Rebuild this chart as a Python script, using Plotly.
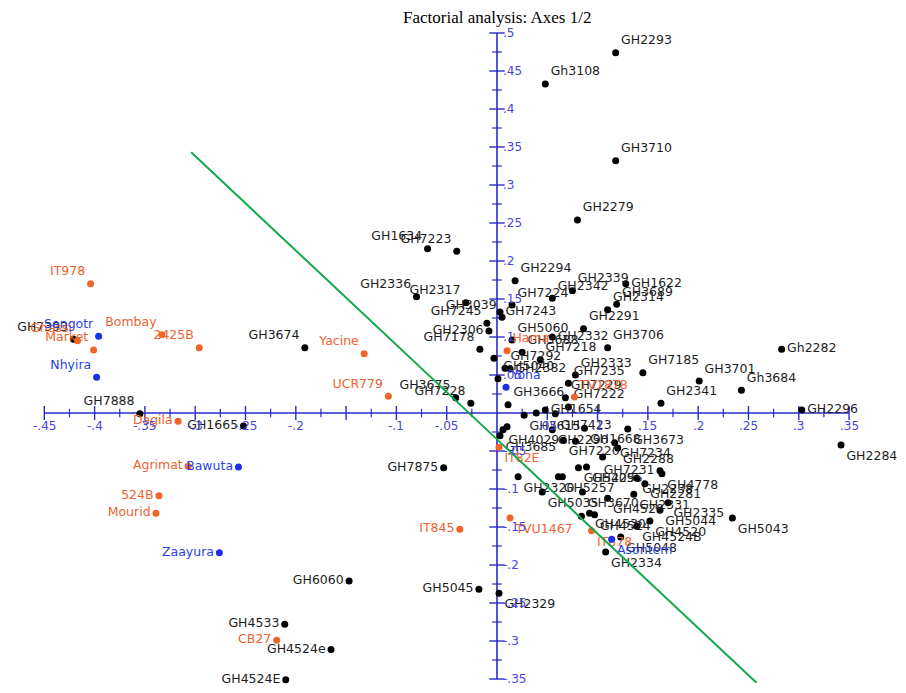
import numpy as np
import plotly.graph_objects as go

# ---------------- data ----------------
names = [
    # black accessions
    "GH2293", "Gh3108", "GH3710", "GH2279", "GH1634", "GH7223", "GH2336", "GH2317",
    "GH3039", "GH7245", "GH2306", "GH7178", "", "GH3674", "GH7393", "GH7888",
    "GH1665", "GH3675", "GH7228", "GH7875", "GH6060", "GH5045", "GH2329", "GH4533",
    "GH4524e", "GH4524E", "GH2294", "GH2339", "GH2342", "GH1622", "GH7224", "GH7243",
    "GH3689", "GH2314", "GH2291", "GH2332", "GH5060", "GH3688", "GH7218", "GH3706",
    "GH7292", "GH2382", "GH5040", "GH2333", "GH7185", "GH7235", "GH7229", "GH3666",
    "GH7222", "GH3701", "Gh2282", "Gh3684", "GH2341", "GH2296", "GH2284", "GH5043",
    "GH2335", "GH4778", "GH7231", "GH2238", "GH2281", "GH2331", "GH4528", "GH5044",
    "GH4520", "GH4524B", "GH3673", "GH1668", "GH7234", "GH2288", "GH2290", "GH3615",
    "GH7423", "GH1654", "GH4029", "GH3685", "GH7220", "", "", "GH5405",
    "GH2295", "GH5257", "", "GH2320", "GH5035", "GH3670", "GH4530", "GH4524",
    "", "GH5048", "GH2334", "", "",
    # orange varieties
    "IT978", "Bombay", "2425B", "Ghassi", "Market", "Dagila", "Agrimat", "524B",
    "Mourid", "CB27", "Yacine", "UCR779", "IT845", "IT82E", "TVU1467", "Hama",
    "TV1878", "IT878",
    # blue varieties
    "Sengotr", "Nhyira", "Bawuta", "Zaayura", "Yona", "Asontem",
]
axis1 = [
    0.118, 0.048, 0.118, 0.080, -0.069, -0.040, -0.080, -0.031,
    0.005, -0.010, -0.008, -0.017, -0.003, -0.191, -0.421, -0.355,
    -0.252, -0.041, -0.026, -0.053, -0.147, -0.018, 0.002, -0.211,
    -0.165, -0.210, 0.018, 0.075, 0.055, 0.128, 0.015, 0.003,
    0.119, 0.110, 0.086, 0.055, 0.015, 0.025, 0.043, 0.110,
    0.008, 0.013, 0.001, 0.078, 0.145, 0.071, 0.068, 0.011,
    0.071, 0.201, 0.283, 0.243, 0.163, 0.303, 0.342, 0.234,
    0.170, 0.164, 0.162, 0.139, 0.147, 0.136, 0.110, 0.162,
    0.152, 0.139, 0.130, 0.087, 0.117, 0.120, 0.055, 0.027,
    0.058, 0.048, 0.006, 0.003, 0.066, 0.078, 0.010, 0.081,
    0.089, 0.061, 0.065, 0.021, 0.045, 0.085, 0.092, 0.097,
    0.084, 0.123, 0.108, 0.105, 0.039,
    -0.404, -0.333, -0.296, -0.417, -0.401, -0.317, -0.307, -0.336,
    -0.339, -0.219, -0.132, -0.108, -0.037, 0.002, 0.013, 0.010,
    0.077, 0.094,
    -0.396, -0.398, -0.257, -0.276, 0.009, 0.114,
]
axis2 = [
    0.474, 0.433, 0.332, 0.254, 0.216, 0.213, 0.153, 0.145,
    0.126, 0.118, 0.108, 0.084, 0.072, 0.086, 0.097, -0.001,
    -0.017, 0.020, 0.013, -0.072, -0.221, -0.232, -0.237, -0.278,
    -0.311, -0.351, 0.174, 0.161, 0.151, 0.170, 0.142, 0.133,
    0.143, 0.136, 0.111, 0.100, 0.096, 0.080, 0.070, 0.086,
    0.059, 0.058, 0.045, 0.050, 0.053, 0.039, 0.020, 0.011,
    0.008, 0.042, 0.084, 0.030, 0.013, 0.004, -0.042, -0.138,
    -0.118, -0.080, -0.076, -0.086, -0.093, -0.107, -0.112, -0.128,
    -0.142, -0.149, -0.021, -0.020, -0.039, -0.046, -0.022, -0.003,
    -0.001, 0.004, -0.022, -0.030, -0.036, -0.037, -0.018, -0.072,
    -0.071, -0.084, -0.084, -0.084, -0.104, -0.104, -0.132, -0.134,
    -0.136, -0.163, -0.183, -0.058, 0.000,
    0.170, 0.103, 0.086, 0.095, 0.083, -0.011, -0.070, -0.109,
    -0.132, -0.299, 0.078, 0.022, -0.153, -0.045, -0.138, 0.082,
    0.021, -0.155,
    0.101, 0.047, -0.071, -0.184, 0.034, -0.166,
]
groups = ["accession"] * 93 + ["introduced"] * 18 + ["released"] * 6

x_tick_vals = [-0.45, -0.4, -0.35, -0.3, -0.25, -0.2, -0.15, -0.1, -0.05,
               0.05, 0.1, 0.15, 0.2, 0.25, 0.3, 0.35]
x_tick_text = ["-.45", "-.4", "-.35", "-.3", "-.25", "-.2", "", "-.1", "-.05",
               ".05", ".1", ".15", ".2", ".25", ".3", ".35"]
y_tick_vals = [0.5, 0.45, 0.4, 0.35, 0.3, 0.25, 0.2, 0.15, 0.1, 0.05,
               -0.05, -0.1, -0.15, -0.2, -0.25, -0.3, -0.35]
y_tick_text = [".5", ".45", ".4", ".35", ".3", ".25", ".2", ".15", ".1", ".05",
               "-.05", "-.1", "-.15", "-.2", "-.25", "-.3", "-.35"]

# separating line (two end points)
sep_x = [-0.304, 0.258]
sep_y = [0.343, -0.355]

# ---------------- style ----------------
label_pos = [
    "tr", "tr", "tr", "tr", "tl", "tl", "tl", "tl",
    "tl", "tl", "l", "tl", "r", "tl", "tl", "tl",
    "l", "tl", "tl", "l", "l", "l", "br", "l",
    "l", "l", "tr", "tr", "tr", "r", "tr", "r",
    "tr", "tr", "tr", "r", "tr", "tr", "tr", "tr",
    "tr", "r", "tr", "tr", "tr", "tr", "tr", "tr",
    "tr", "tr", "r", "tr", "tr", "r", "br", "br",
    "br", "br", "l", "br", "br", "br", "br", "br",
    "br", "br", "br", "br", "br", "br", "br", "br",
    "br", "r", "br", "br", "br", "br", "br", "br",
    "br", "br", "br", "br", "br", "br", "br", "br",
    "br", "br", "br", "br", "br",
    "tl", "tl", "tl", "tl", "tl", "l", "l", "l",
    "l", "l", "tl", "tl", "l", "br", "br", "tr",
    "tr", "br",
    "tl", "tl", "l", "l", "tr", "br",
]
pos_map = {"tr": "top right", "tl": "top left", "l": "middle left",
           "r": "middle right", "br": "bottom right"}
group_style = {
    "accession": dict(dot="#000000", text="#1e1e1e"),
    "introduced": dict(dot="#F0642A", text="#EE6330"),
    "released": dict(dot="#1B2FE6", text="#2A3FE0"),
}
AXIS_BLUE = "#2B2BC8"
TICK_BLUE = "#4646DC"
LABEL_FONT = "DejaVu Sans"

# figure is drawn inside the page body (8px default margin), so the
# figure is 8px smaller than the window and ranges are set accordingly
FIG_W, FIG_H = 898, 685
X_RANGE = [-0.4861, 0.4066]
Y_RANGE = [-0.3684, 0.5329]

fig = go.Figure()

# axis lines
fig.add_trace(go.Scatter(x=[x_tick_vals[0], x_tick_vals[-1]], y=[0, 0], mode="lines",
                         line=dict(color=AXIS_BLUE, width=1.6), hoverinfo="skip"))
fig.add_trace(go.Scatter(x=[0, 0], y=[y_tick_vals[-1], y_tick_vals[0]], mode="lines",
                         line=dict(color=AXIS_BLUE, width=1.6), hoverinfo="skip"))

# major / minor ticks
xv = np.array(x_tick_vals)
all_x = np.sort(np.concatenate([xv, [0.0]]))
x_minor = (all_x[:-1] + all_x[1:]) / 2
yv = np.array(y_tick_vals)
all_y = np.sort(np.concatenate([yv, [0.0]]))
y_minor = (all_y[:-1] + all_y[1:]) / 2

fig.add_trace(go.Scatter(x=x_tick_vals, y=[0] * len(x_tick_vals), mode="markers",
                         marker=dict(symbol="line-ns", size=10,
                                     line=dict(color=AXIS_BLUE, width=1.4)),
                         hoverinfo="skip"))
fig.add_trace(go.Scatter(x=x_minor, y=[0] * len(x_minor), mode="markers",
                         marker=dict(symbol="line-ns", size=6,
                                     line=dict(color=AXIS_BLUE, width=1.2)),
                         hoverinfo="skip"))
fig.add_trace(go.Scatter(x=[0] * len(y_tick_vals), y=y_tick_vals, mode="markers",
                         marker=dict(symbol="line-ew", size=11,
                                     line=dict(color=AXIS_BLUE, width=1.4)),
                         hoverinfo="skip"))
fig.add_trace(go.Scatter(x=[0] * len(y_minor), y=y_minor, mode="markers",
                         marker=dict(symbol="line-ew", size=7,
                                     line=dict(color=AXIS_BLUE, width=1.2)),
                         hoverinfo="skip"))

# tick labels
for v, t in zip(x_tick_vals, x_tick_text):
    if t:
        fig.add_annotation(x=v, y=0, xref="x", yref="y", text=t, showarrow=False,
                           xanchor="center", yanchor="middle", yshift=-13,
                           font=dict(family=LABEL_FONT, size=12, color=TICK_BLUE))
for v, t in zip(y_tick_vals, y_tick_text):
    fig.add_annotation(x=0, y=v, xref="x", yref="y", text=t, showarrow=False,
                       xanchor="left", yanchor="middle", xshift=4,
                       font=dict(family=LABEL_FONT, size=12, color=TICK_BLUE))

# points by group
for g, st in group_style.items():
    idx = [i for i, gg in enumerate(groups) if gg == g]
    fig.add_trace(go.Scatter(
        x=[axis1[i] for i in idx], y=[axis2[i] for i in idx],
        mode="markers+text",
        text=[names[i] for i in idx],
        textposition=[pos_map[label_pos[i]] for i in idx],
        marker=dict(size=7, color=st["dot"]),
        textfont=dict(family=LABEL_FONT, size=12.5, color=st["text"]),
        cliponaxis=False, name=g,
    ))

# separating line
fig.add_trace(go.Scatter(x=sep_x, y=sep_y, mode="lines",
                         line=dict(color="#12A84A", width=2), hoverinfo="skip"))

fig.add_annotation(text="Factorial analysis: Axes 1/2", x=0, xref="x",
                   y=1 + 2 / FIG_H, yref="paper", showarrow=False,
                   font=dict(family="Liberation Serif", size=17, color="#000000"),
                   xanchor="center", yanchor="top")

fig.update_layout(
    width=FIG_W, height=FIG_H,
    margin=dict(l=0, r=0, t=0, b=0),
    paper_bgcolor="white", plot_bgcolor="white",
    showlegend=False,
    xaxis=dict(range=X_RANGE, visible=False, fixedrange=True),
    yaxis=dict(range=Y_RANGE, visible=False, fixedrange=True),
)

fig.write_html("out.html")
